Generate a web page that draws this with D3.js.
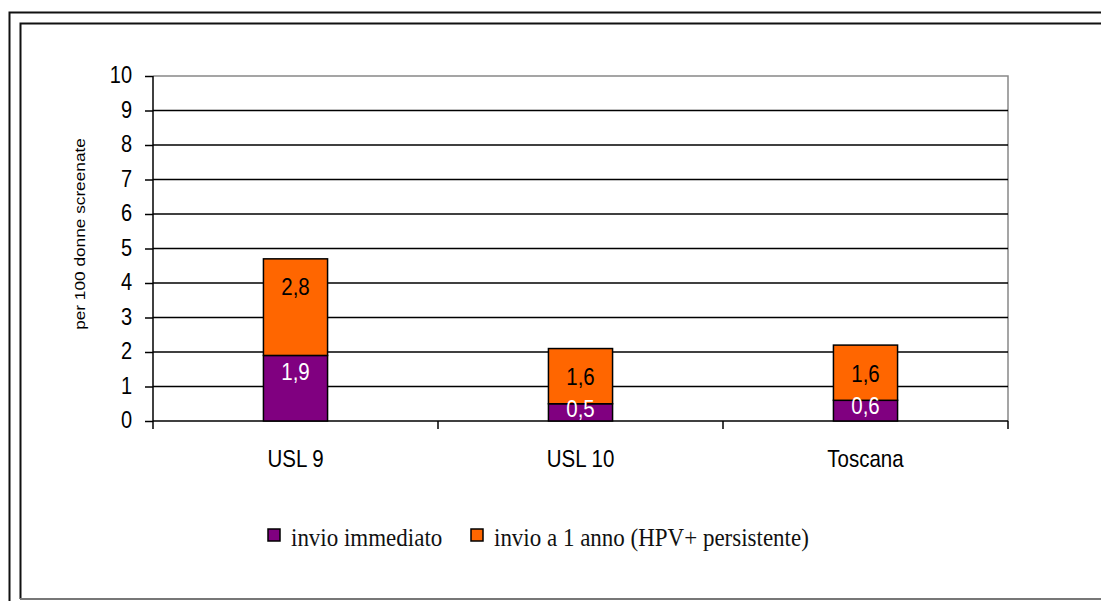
<!DOCTYPE html>
<html>
<head>
<meta charset="utf-8">
<script src="https://cdn.jsdelivr.net/npm/d3@7"></script>
<style>
  html, body { margin: 0; padding: 0; background: #fff; }
  svg { display: block; }
</style>
</head>
<body>
<svg id="chart" width="1101" height="601"></svg>
<script>
// ---- data ----
const categories = ["USL 9", "USL 10", "Toscana"];
const immediato = [1.9, 0.5, 0.6];
const unAnno = [2.8, 1.6, 1.6];
const seriesNames = ["invio immediato", "invio a 1 anno (HPV+ persistente)"];
const yTicks = [0, 1, 2, 3, 4, 5, 6, 7, 8, 9, 10];
const fmt = v => v.toFixed(1).replace(".", ",");

// ---- layout ----
const svg = d3.select("#chart");
const colors = ["#800080", "#FF6600"];
const plot = { left: 153, right: 1008, top: 76, bottom: 421 };
const SANS = "Liberation Sans, Arial, sans-serif";
const STRETCH = 1.15;

// frames
svg.append("path").attr("d", "M1110,12.5 H9.5 V610").attr("fill", "none").attr("stroke", "#111").attr("stroke-width", 2);
svg.append("path").attr("d", "M1110,23.5 H20.5 V599").attr("fill", "none").attr("stroke", "#111").attr("stroke-width", 2);
svg.append("line").attr("x1", 20).attr("x2", 1101).attr("y1", 599).attr("y2", 599).attr("stroke", "#777").attr("stroke-width", 2);

const y = d3.scaleLinear().domain([0, 10]).range([plot.bottom, plot.top]);
const x = d3.scaleBand().domain(categories).range([plot.left, plot.right])
  .paddingInner(0.775).paddingOuter(0.3875);

// plot border (grey top/right)
svg.append("path")
  .attr("d", `M${plot.left},${y(10)} H${plot.right} V${plot.bottom}`)
  .attr("fill", "none").attr("stroke", "#888").attr("stroke-width", 1.5);

// gridlines
svg.append("g").selectAll("line").data(yTicks.filter(t => t > 0 && t < 10)).join("line")
  .attr("x1", plot.left).attr("x2", plot.right)
  .attr("y1", d => y(d)).attr("y2", d => y(d))
  .attr("stroke", "#000").attr("stroke-width", 1.5);

// y axis
const yAxis = svg.append("g").attr("transform", `translate(${plot.left},0)`)
  .call(d3.axisLeft(y).tickValues(yTicks).tickFormat(d3.format("d")).tickSize(8).tickPadding(13));
yAxis.select(".domain").attr("stroke", "#000").attr("stroke-width", 1.5).attr("d", `M0,${y(10)}V${y(0)}`);
yAxis.selectAll(".tick line").attr("stroke", "#000").attr("stroke-width", 1.5);
yAxis.selectAll(".tick text").attr("font-family", SANS)
  .attr("font-size", 20).attr("fill", "#000").attr("dy", "0.3em")
  .attr("transform", `scale(1,${STRETCH})`);

// x axis
svg.append("line").attr("x1", plot.left).attr("x2", plot.right)
  .attr("y1", y(0)).attr("y2", y(0)).attr("stroke", "#000").attr("stroke-width", 1.5);
const boundaries = d3.range(categories.length + 1).map(i => plot.left + i * x.step());
svg.append("g").selectAll("line").data(boundaries).join("line")
  .attr("x1", d => d).attr("x2", d => d)
  .attr("y1", y(0)).attr("y2", y(0) + 8)
  .attr("stroke", "#000").attr("stroke-width", 1.5);
svg.append("g").selectAll("text").data(categories).join("text")
  .attr("transform", d => `translate(${x(d) + x.bandwidth() / 2},467) scale(1,${STRETCH})`)
  .attr("text-anchor", "middle")
  .attr("font-family", SANS).attr("font-size", 20.5)
  .text(d => d);

// y title
svg.append("text")
  .attr("transform", `translate(85,234) rotate(-90) scale(${STRETCH},1)`)
  .attr("text-anchor", "middle")
  .attr("font-family", SANS).attr("font-size", 15)
  .text("per 100 donne screenate");

// bars
const stacked = categories.map((c, i) => ({ c, a: immediato[i], b: unAnno[i] }));
const g = svg.append("g");
stacked.forEach(d => {
  const bx = x(d.c), bw = x.bandwidth();
  g.append("rect").attr("x", bx).attr("width", bw)
    .attr("y", y(d.a)).attr("height", y(0) - y(d.a))
    .attr("fill", colors[0]).attr("stroke", "#000").attr("stroke-width", 1.5);
  g.append("rect").attr("x", bx).attr("width", bw)
    .attr("y", y(d.a + d.b)).attr("height", y(d.a) - y(d.a + d.b))
    .attr("fill", colors[1]).attr("stroke", "#000").attr("stroke-width", 1.5);
});
stacked.forEach(d => {
  const cx = x(d.c) + x.bandwidth() / 2;
  g.append("text")
    .attr("transform", `translate(${cx},${y(d.a * 0.75)}) scale(1,${STRETCH})`)
    .attr("dy", "0.36em").attr("text-anchor", "middle")
    .attr("font-family", SANS).attr("font-size", 20.5)
    .attr("fill", "#fff").text(fmt(d.a));
  g.append("text")
    .attr("transform", `translate(${cx},${y(d.a + d.b) + 28}) scale(1,${STRETCH})`)
    .attr("dy", "0.36em").attr("text-anchor", "middle")
    .attr("font-family", SANS).attr("font-size", 20.5)
    .attr("fill", "#000").text(fmt(d.b));
});

// legend
const legendX = [268, 471];
const leg = svg.append("g");
seriesNames.forEach((n, i) => {
  leg.append("rect").attr("x", legendX[i]).attr("y", 529).attr("width", 12).attr("height", 12)
    .attr("fill", colors[i]).attr("stroke", "#000").attr("stroke-width", 1.5);
  leg.append("text")
    .attr("transform", `translate(${legendX[i] + 23},546) scale(1,1.1)`)
    .attr("font-family", "Liberation Serif, Times New Roman, serif").attr("font-size", 23)
    .attr("fill", "#111").text(n);
});
</script>
</body>
</html>
